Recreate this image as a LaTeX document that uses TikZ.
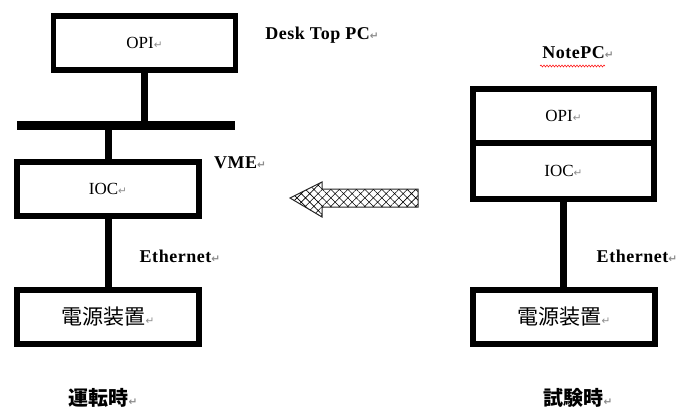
\documentclass[tikz,border=0pt]{standalone}
\usepackage{fontspec}
\setmainfont{Liberation Serif}
\newfontfamily\cjk{Noto Sans CJK JP}
\newfontfamily\symf{DejaVu Sans}
\usetikzlibrary{patterns.meta,decorations.pathmorphing}
\newcommand{\pmark}{{\symf\fontsize{10.5}{10.5}\selectfont\color{black!45}↵}}
\begin{document}
\begin{tikzpicture}[x=1pt,y=-1pt,
  box/.style={draw,line width=5.5pt,rectangle,inner sep=0pt,minimum width=182pt,minimum height=54pt,font=\fontsize{17}{17}\selectfont},
  lbl/.style={font=\bfseries\fontsize{18}{18}\selectfont\addfontfeatures{LetterSpace=3},inner sep=0pt},
  cjklbl/.style={font=\cjk\bfseries\fontsize{20}{20}\selectfont,inner sep=0pt},
  wire/.style={line width=7pt},
]
\useasboundingbox (0,0) rectangle (683,410);
% left column
\node[box] (opiL) at (144.5,43) {OPI\pmark};
\node[fill,inner sep=0pt,minimum width=218pt,minimum height=9pt] (bus) at (126,125.5) {};
\node[box] (iocL) at (108,189) {IOC\pmark};
\node[box] (psL) at (108,317) {{\cjk\fontsize{21}{21}\selectfont 電源装置}\pmark};
\draw[wire] (opiL.south) -- (opiL.south |- bus.north);
\draw[wire] (bus.south -| iocL.north) -- (iocL.north);
\draw[wire] (iocL.south) -- (psL.north);
% right column
\node[box,minimum width=181pt] (opiR) at (563.5,116) {OPI\pmark};
\node[box,minimum width=181pt,minimum height=56pt] (iocR) at (563.5,171) {IOC\pmark};
\node[box] (psR) at (564,317) {{\cjk\fontsize{21}{21}\selectfont 電源装置}\pmark};
\draw[wire] (iocR.south) -- (iocR.south |- psR.north);
% labels
\node[lbl] (ldesk) at (322,35) {Desk Top PC\pmark};
\node[lbl] (lvme) at (240,163) {VME\pmark};
\node[lbl] (lethL) at (180,256) {Ethernet\pmark};
\node[lbl] (lnote) at (578,53) {NotePC\pmark};
\node[lbl] (lethR) at (637,256) {Ethernet\pmark};
\node[cjklbl] (lrun) at (103,398) {運転時\pmark};
\node[cjklbl] (ltest) at (578,398) {試験時\pmark};
\coordinate (wl) at (540,66);
\coordinate (wr) at (605,66);
\draw[red,line width=0.5pt,decorate,decoration={snake,amplitude=1pt,segment length=3pt}] (wl) -- (wr);
% hatched arrow
\path[pattern={Hatch[angle=45,distance=6pt,line width=0.6pt]}]
  (290,198) -- (322,182) -- (322,189) -- (418,189) -- (418,207) -- (322,207) -- (322,217) -- cycle;
\draw[line width=1pt,black!85,line join=miter]
  (290,198) -- (322,182) -- (322,189) -- (418,189) -- (418,207) -- (322,207) -- (322,217) -- cycle;
\end{tikzpicture}
\end{document}
